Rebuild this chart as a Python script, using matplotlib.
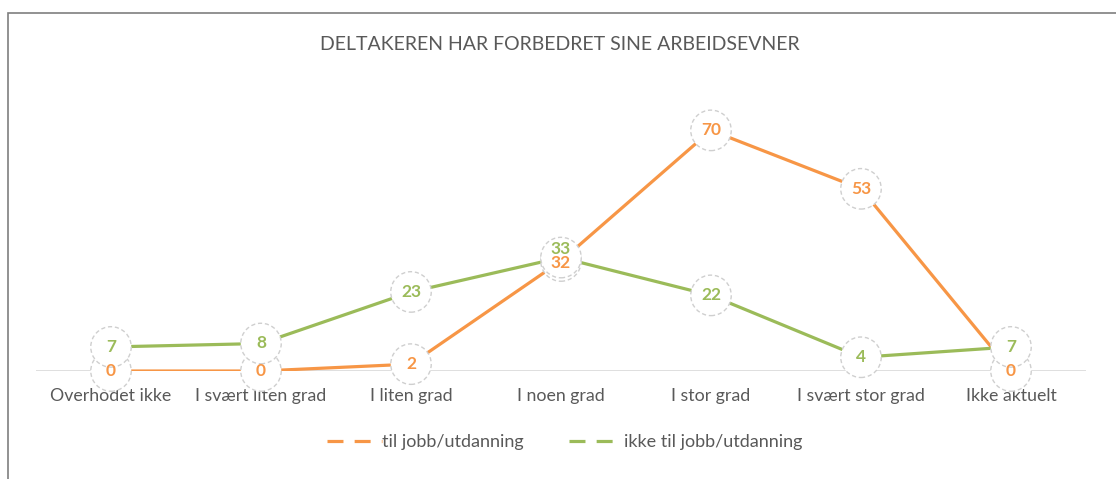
import matplotlib
matplotlib.use("Agg")
import matplotlib.pyplot as plt
from matplotlib.lines import Line2D
from matplotlib.patches import Rectangle

categories = ["Overhodet ikke", "I svært liten grad", "I liten grad", "I noen grad",
              "I stor grad", "I svært stor grad", "Ikke aktuelt"]
til_jobb = [0, 0, 2, 32, 70, 53, 0]
ikke_til_jobb = [7, 8, 23, 33, 22, 4, 7]
series_names = ["til jobb/utdanning", "ikke til jobb/utdanning"]
title = "DELTAKEREN HAR FORBEDRET SINE ARBEIDSEVNER"

orange = "#F79646"
green = "#9BBB59"
gray_text = "#595959"

plt.rcParams['font.family'] = ['Lato', 'DejaVu Sans']

fig = plt.figure(figsize=(11.16, 4.79), dpi=100)
ax = fig.add_axes([36/1116, 1-371/479, 1050/1116, (371-96)/479])

x = list(range(len(categories)))
ax.plot(x, til_jobb, color=orange, lw=2.3, zorder=2, solid_capstyle='round')
ax.plot(x, ikke_til_jobb, color=green, lw=2.3, zorder=2, solid_capstyle='round')

for vals, other, col, z, dyc in [(til_jobb, ikke_til_jobb, orange, 3, -1.5),
                                  (ikke_til_jobb, til_jobb, green, 4, 6)]:
    ax.scatter(x, vals, s=850, facecolor="white", edgecolor="#cfcfcf",
               linewidths=1.0, linestyle=(0, (3, 2)), zorder=z, clip_on=False)
    for xi, v, o in zip(x, vals, other):
        dy = dyc if abs(v - o) < 3 else 0
        ax.annotate(str(v), (xi, v), xytext=(0, dy), textcoords='offset points',
                    color=col, fontsize=12.5, fontweight='bold',
                    ha='center', va='center', zorder=6, annotation_clip=False)

ax.axhline(0, color="#d9d9d9", lw=1.2, zorder=1)
ax.set_xlim(-0.5, len(categories) - 0.5)
ax.set_ylim(0, 80)
ax.set_xticks(x)
ax.set_xticklabels(categories, fontsize=12.8, color=gray_text)
ax.tick_params(axis='x', length=0, pad=12)
ax.set_yticks([])
for s in ax.spines.values():
    s.set_visible(False)
ax.patch.set_alpha(0)

fig.text(560/1116, 1-45/479, title, ha='center', va='center', fontsize=14,
         color=gray_text)

handles = [Line2D([0], [0], color=orange, lw=2.3, dashes=(5, 3.5)),
           Line2D([0], [0], color=green, lw=2.3, dashes=(5, 3.5))]
fig.legend(handles, series_names, loc='center', bbox_to_anchor=(565/1116, 1-442/479),
           ncol=2, frameon=False, fontsize=13, labelcolor=gray_text,
           handlelength=3.0, handletextpad=0.05, columnspacing=2.5)

fig.patches.append(Rectangle((8/1116, -0.1), 1.2, 1.1 - 13/479, transform=fig.transFigure,
                             fill=False, edgecolor="#7f7f7f", lw=1.2))

fig.savefig("out.png", dpi=100)
